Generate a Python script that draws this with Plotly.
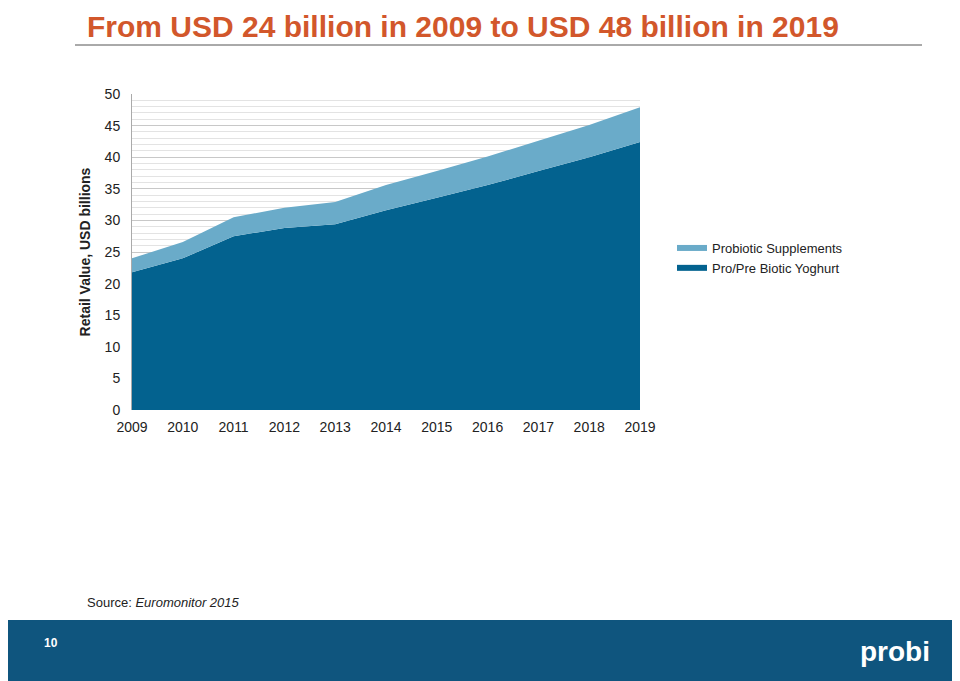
import plotly.graph_objects as go

years = ["2009", "2010", "2011", "2012", "2013", "2014", "2015", "2016", "2017", "2018", "2019"]
yoghurt = [21.8, 24.0, 27.5, 28.8, 29.4, 31.6, 33.6, 35.6, 37.8, 40.0, 42.4]
supplements = [2.2, 2.6, 3.0, 3.2, 3.5, 4.0, 4.2, 4.5, 4.8, 5.1, 5.5]

DARK = "#03628F"
LIGHT = "#6AABC9"
W, H, OFF = 960, 681, 8  # page has an 8px body margin


def px(x):
    return (x - OFF) / W


def py(y):
    return 1 - (y - OFF) / H


fig = go.Figure()
fig.add_trace(go.Scatter(x=years, y=yoghurt, name="Pro/Pre Biotic Yoghurt", stackgroup="one",
                         mode="none", fillcolor=DARK))
fig.add_trace(go.Scatter(x=years, y=supplements, name="Probiotic Supplements", stackgroup="one",
                         mode="none", fillcolor=LIGHT))

fig.update_layout(
    width=W, height=H, paper_bgcolor="white", plot_bgcolor="white",
    font=dict(family="Liberation Sans, Arial", color="#222"),
    margin=dict(l=0, r=0, t=0, b=0, pad=0, autoexpand=False),
    showlegend=True,
    legend=dict(x=px(672), y=py(233), xanchor="left", yanchor="top", traceorder="reversed",
                font=dict(size=13), itemwidth=30),
    xaxis=dict(domain=[px(132), px(640)], type="category", range=[0, 10], showgrid=False,
               tickfont=dict(size=14), ticks="outside", ticklen=4, tickcolor="white",
               showline=False, automargin=False),
    yaxis=dict(domain=[py(410), py(94)], range=[0, 50], dtick=5, tickfont=dict(size=14),
               showgrid=True, gridcolor="#c8c8c8", gridwidth=1, zeroline=False,
               minor=dict(dtick=1, showgrid=True, gridcolor="#e3e3e3"),
               showline=True, linecolor="#aaa", automargin=False,
               ticks="outside", ticklen=8, tickcolor="white",
               title=dict(text="<b>Retail Value, USD billions</b>", font=dict(size=14), standoff=10)),
    shapes=[
        dict(type="line", xref="paper", yref="paper", x0=px(75), x1=px(922), y0=py(45), y1=py(45),
             line=dict(color="#555", width=1)),
        dict(type="rect", xref="paper", yref="paper", x0=px(5), x1=px(955), y0=0, y1=py(620),
             fillcolor="#0F557E", line=dict(width=0), layer="below"),
    ],
    annotations=[
        dict(text="<b>From USD 24 billion in 2009 to USD 48 billion in 2019</b>", xref="paper", yref="paper",
             x=px(85), y=1, xanchor="left", yanchor="top", showarrow=False,
             font=dict(size=30, color="#D2572B")),
        dict(text="Source: <i>Euromonitor 2015</i>", xref="paper", yref="paper",
             x=px(85), y=py(602), xanchor="left", yanchor="middle", showarrow=False,
             font=dict(size=13, color="#222")),
        dict(text="<b>10</b>", xref="paper", yref="paper", x=px(51), y=py(643),
             xanchor="center", yanchor="middle", showarrow=False, font=dict(size=12, color="white")),
        dict(text="<b>probi</b>", xref="paper", yref="paper", x=px(895), y=py(651),
             xanchor="center", yanchor="middle", showarrow=False, font=dict(size=28, color="white")),
    ],
)

fig.write_html("out.html")
